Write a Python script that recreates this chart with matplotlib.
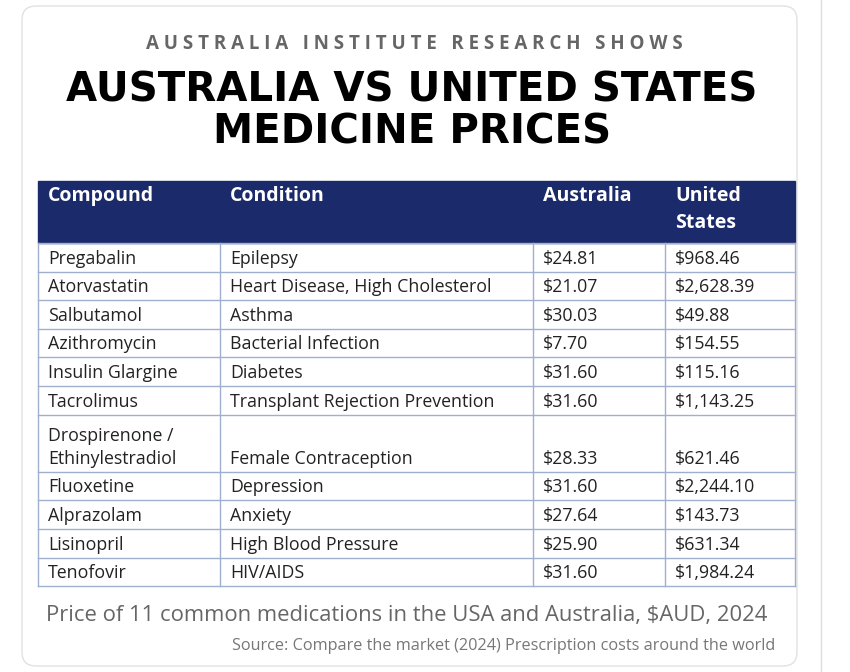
import matplotlib.pyplot as plt
from matplotlib.patches import Rectangle, FancyBboxPatch

compounds = ["Pregabalin", "Atorvastatin", "Salbutamol", "Azithromycin", "Insulin Glargine",
             "Tacrolimus", "Drospirenone /\nEthinylestradiol", "Fluoxetine", "Alprazolam",
             "Lisinopril", "Tenofovir"]
conditions = ["Epilepsy", "Heart Disease, High Cholesterol", "Asthma", "Bacterial Infection",
              "Diabetes", "Transplant Rejection Prevention", "Female Contraception", "Depression",
              "Anxiety", "High Blood Pressure", "HIV/AIDS"]
australia = ["$24.81", "$21.07", "$30.03", "$7.70", "$31.60", "$31.60", "$28.33", "$31.60",
             "$27.64", "$25.90", "$31.60"]
united_states = ["$968.46", "$2,628.39", "$49.88", "$154.55", "$115.16", "$1,143.25", "$621.46",
                 "$2,244.10", "$143.73", "$631.34", "$1,984.24"]
headers = ["Compound", "Condition", "Australia", "United\nStates"]

W, H = 850, 672
fig = plt.figure(figsize=(W / 100, H / 100), dpi=100)
ax = fig.add_axes([0, 0, 1, 1])
ax.set_xlim(0, W)
ax.set_ylim(H, 0)
ax.axis('off')

font = 'Open Sans'
navy = '#1b2a6b'
grid = '#9fb0cf'

# card
ax.add_patch(FancyBboxPatch((22, 6), 775, 660, boxstyle="round,pad=0,rounding_size=14",
                            fc='white', ec='#e2e2e2', lw=1))
ax.plot([821, 821], [0, H], color='#dddddd', lw=1)

ax.text(414, 44, "A U S T R A L I A   I N S T I T U T E   R E S E A R C H   S H O W S",
        ha='center', va='center', fontsize=13.5, color='#666666', family=font, weight='bold')
ax.text(412, 90, "AUSTRALIA VS UNITED STATES", ha='center', va='center', fontsize=29,
        family='DejaVu Sans', weight='heavy', color='black')
ax.text(412, 133, "MEDICINE PRICES", ha='center', va='center', fontsize=29,
        family='DejaVu Sans', weight='heavy', color='black')

cols = [38, 220, 533, 665, 795]
top, head_bot = 181, 243
row_h = 28.6
heights = [2 if '\n' in c else 1 for c in compounds]

ax.add_patch(Rectangle((cols[0], top), cols[-1] - cols[0], head_bot - top, fc=navy, ec=navy))
for i, h in enumerate(headers):
    ax.text(cols[i] + 10, 186, h, ha='left', va='top', fontsize=14, color='white',
            family=font, weight='bold', linespacing=1.45)

y = head_bot
ys = [y]
for i, n in enumerate(heights):
    y += n * row_h
    ys.append(y)
    vals = [compounds[i], conditions[i], australia[i], united_states[i]]
    for j, v in enumerate(vals):
        ax.text(cols[j] + 10, y - 4, v, ha='left', va='bottom', fontsize=12.8,
                color='#222222', family=font, linespacing=1.35)
for yy in ys:
    ax.plot([cols[0], cols[-1]], [yy, yy], color=grid, lw=1)
for x in cols:
    ax.plot([x, x], [head_bot, ys[-1]], color=grid, lw=1)

ax.text(407, 616, "Price of 11 common medications in the USA and Australia, $AUD, 2024",
        ha='center', va='center', fontsize=15.8, color='#666666', family=font)
ax.text(775, 646, "Source: Compare the market (2024) Prescription costs around the world",
        ha='right', va='center', fontsize=11.7, color='#777777', family=font)

fig.savefig('out.png', dpi=100)
